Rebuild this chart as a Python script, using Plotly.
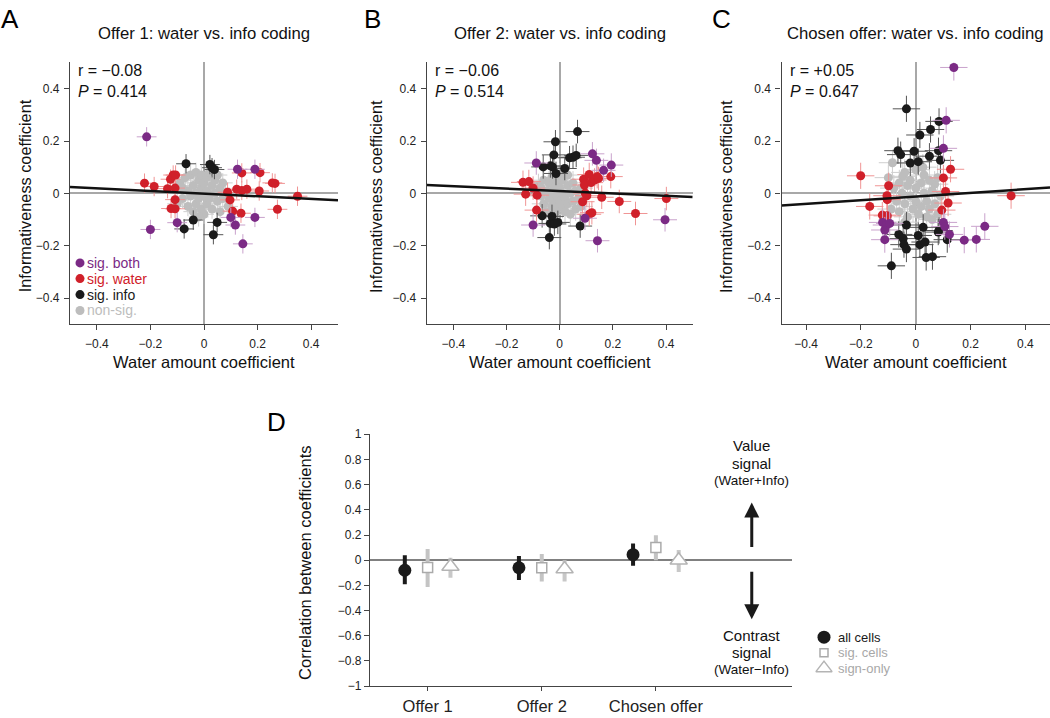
import plotly.graph_objects as go

W, H = 1050, 718
FONT = "Liberation Sans, Arial, Helvetica, sans-serif"

# ---------------- Panel A: Offer 1 ----------------
A_BOTH_X = [-0.214, -0.200, 0.125, 0.190, -0.100, 0.100, 0.117, 0.190, 0.145]
A_BOTH_Y = [0.216, -0.138, 0.092, 0.092, -0.112, -0.092, -0.121, -0.092, -0.193]
A_WATER_X = [-0.222, -0.186, -0.136, -0.125, -0.115, -0.106, -0.108, -0.108, -0.123, -0.108,
             0.088, 0.097, 0.107, 0.138, 0.122, 0.141, 0.160, 0.141, 0.209, 0.206, 0.255,
             0.265, 0.274, 0.349]
A_WATER_Y = [0.039, 0.026, 0.018, 0.054, 0.070, 0.070, 0.020, -0.024, -0.058, -0.059,
             0.004, -0.025, -0.068, -0.076, 0.016, 0.011, 0.016, 0.078, 0.079, 0.009, 0.040,
             0.038, -0.061, -0.011]
A_INFO_X = [-0.067, 0.022, 0.030, 0.039, -0.040, -0.074, 0.049, 0.035]
A_INFO_Y = [0.113, 0.110, 0.098, 0.091, -0.102, -0.136, -0.111, -0.158]
A_NS_X = [-0.09, -0.08, -0.07, -0.06, -0.06, -0.05, -0.05, -0.04, -0.04, -0.03, -0.03, -0.03,
          -0.02, -0.02, -0.01, -0.01, -0.01, 0.00, 0.00, 0.00, 0.01, 0.01, 0.01, 0.02, 0.02,
          0.03, 0.03, 0.04, 0.04, 0.05, 0.05, 0.06, 0.06, 0.07, 0.07, 0.08, -0.08, -0.10,
          0.09, -0.02]
A_NS_Y = [0.04, -0.02, 0.06, 0.01, -0.05, 0.07, -0.01, 0.03, -0.07, 0.08, 0.00, -0.04,
          0.05, -0.02, 0.07, 0.02, -0.06, 0.04, -0.01, -0.08, 0.06, 0.01, -0.04, 0.08, -0.02,
          0.03, -0.06, 0.05, 0.00, -0.03, 0.07, 0.02, -0.07, 0.04, -0.02, 0.00, 0.02, -0.04,
          -0.05, -0.09]

# ---------------- Panel B: Offer 2 ----------------
B_BOTH_X = [-0.088, 0.123, 0.138, 0.165, 0.194, -0.100, 0.095, 0.142, 0.396]
B_BOTH_Y = [0.116, 0.151, 0.126, 0.088, 0.108, -0.121, -0.095, -0.181, -0.101]
B_WATER_X = [-0.138, -0.116, -0.100, -0.128, -0.085, -0.087, 0.090, 0.111, 0.093, 0.096,
             0.102, 0.118, 0.131, 0.141, 0.146, 0.192, 0.086, 0.121, 0.111, 0.158, 0.224,
             0.285, 0.401]
B_WATER_Y = [0.042, 0.045, 0.020, -0.003, -0.007, -0.064, 0.054, 0.072, 0.032, 0.001,
             -0.009, 0.041, 0.051, 0.064, 0.057, 0.064, -0.032, -0.074, -0.080, -0.015, -0.031,
             -0.077, -0.020]
B_INFO_X = [0.067, -0.016, -0.022, -0.062, -0.035, -0.027, -0.014, 0.019, 0.037, 0.050,
            0.062, -0.066, -0.029, -0.035, -0.020, -0.007, -0.039, 0.077]
B_INFO_Y = [0.236, 0.197, 0.147, 0.101, 0.105, 0.101, 0.076, 0.095, 0.136, 0.138,
            0.145, -0.086, -0.088, -0.115, -0.117, -0.111, -0.169, -0.125]
B_NS_X = [-0.08, -0.07, -0.06, -0.06, -0.05, -0.05, -0.04, -0.04, -0.03, -0.03, -0.03, -0.02,
          -0.02, -0.02, -0.01, -0.01, -0.01, 0.00, 0.00, 0.01, 0.01, 0.01, 0.02, 0.02, 0.03,
          0.03, 0.04, 0.04, 0.05, 0.05, 0.06, 0.06, 0.07, 0.08, 0.08, -0.07, 0.00, 0.03]
B_NS_Y = [0.03, -0.01, 0.05, -0.04, 0.01, -0.07, 0.04, -0.02, 0.06, 0.00, -0.05, 0.02,
          -0.03, -0.08, 0.04, -0.01, -0.06, 0.02, -0.03, 0.05, 0.00, -0.05, -0.02, -0.07, 0.03,
          -0.04, 0.00, -0.08, 0.04, -0.03, -0.06, 0.01, -0.02, 0.02, -0.05, 0.02, 0.07, 0.07]

# ---------------- Panel C: Chosen offer ----------------
C_BOTH_X = [0.139, 0.111, 0.101, -0.121, -0.107, -0.113, -0.095, -0.113, 0.101, 0.106,
            0.123, 0.177, 0.221, 0.252]
C_BOTH_Y = [0.481, 0.279, 0.172, -0.111, -0.121, -0.140, -0.115, -0.177, -0.111, -0.127,
            -0.157, -0.179, -0.176, -0.126]
C_WATER_X = [-0.201, -0.168, -0.099, -0.105, -0.104, -0.122, -0.104, 0.127, 0.101, 0.109,
             0.118, 0.095, 0.348]
C_WATER_Y = [0.067, -0.050, 0.029, -0.009, -0.024, -0.083, -0.086, 0.092, 0.059, 0.007,
             -0.037, -0.064, -0.009]
C_INFO_X = [-0.034, 0.085, 0.054, 0.015, -0.065, -0.055, -0.006, -0.020, 0.009, 0.050,
            0.083, 0.090, -0.034, -0.062, -0.046, -0.043, -0.034, 0.027, 0.009, 0.015,
            0.034, 0.038, 0.061, 0.082, 0.085, 0.115, -0.089]
C_INFO_Y = [0.323, 0.275, 0.244, 0.223, 0.163, 0.148, 0.161, 0.116, 0.121, 0.142,
            0.163, 0.126, -0.121, -0.157, -0.173, -0.196, -0.213, -0.130, -0.161, -0.196,
            -0.186, -0.245, -0.242, -0.148, -0.142, -0.177, -0.277]
C_NS_X = [-0.085, -0.100, -0.047, 0.026, 0.069, -0.08, -0.07, -0.06, -0.06, -0.05, -0.04,
          -0.04, -0.03, -0.03, -0.02, -0.02, -0.01, 0.00, 0.00, 0.00, 0.01, 0.02, 0.02, 0.03,
          0.03, 0.04, 0.04, 0.05, 0.05, 0.06, 0.06, 0.07, 0.08, 0.08, 0.09, -0.09, 0.01, -0.04]
C_NS_Y = [0.117, 0.060, 0.065, 0.100, 0.035, 0.02, -0.03, 0.04, -0.07, 0.00, 0.08,
          -0.04, 0.03, -0.09, -0.01, 0.05, -0.06, 0.02, 0.09, -0.03, -0.08, 0.04, -0.05, 0.00,
          0.07, -0.03, -0.09, 0.05, -0.06, 0.01, -0.10, -0.04, 0.06, -0.08, -0.01, -0.06, 0.12,
          -0.11]

# error bar half-widths (both coefficients), one per panel
PANEL_ERR = [0.037, 0.045, 0.05]
# regression lines
FIT_INTERCEPT = [-0.001, 0.009, -0.012]
FIT_SLOPE = [-0.05, -0.046, 0.07]
STATS_R = ["r = \u22120.08", "r = \u22120.06", "r = +0.05"]
STATS_P = ["0.414", "0.514", "0.647"]
TITLES = ["Offer 1: water vs. info coding", "Offer 2: water vs. info coding",
          "Chosen offer: water vs. info coding"]
SCAT_LEGEND = ["sig. both", "sig. water", "sig. info", "non-sig."]

# ---------------- Panel D ----------------
D_CATS = ["Offer 1", "Offer 2", "Chosen offer"]
D_POS = [1, 2, 3]
D_ALL = [-0.08, -0.06, 0.044]
D_ALL_LO = [-0.19, -0.158, -0.044]
D_ALL_HI = [0.04, 0.034, 0.133]
D_SIG = [-0.057, -0.06, 0.10]
D_SIG_LO = [-0.213, -0.17, 0.0]
D_SIG_HI = [0.089, 0.05, 0.197]
D_SGN = [-0.05, -0.07, 0.0]
D_SGN_LO = [-0.14, -0.17, -0.094]
D_SGN_HI = [0.02, 0.0, 0.08]
D_LEGEND = ["all cells", "sig. cells", "sign-only"]

SCAT_TICKS = [-0.4, -0.2, 0, 0.2, 0.4]
SCAT_TICKTEXT = ["\u22120.4", "\u22120.2", "0", "0.2", "0.4"]
D_TICKS = [-1, -0.8, -0.6, -0.4, -0.2, 0, 0.2, 0.4, 0.6, 0.8, 1]
D_TICKTEXT = ["\u22121", "\u22120.8", "\u22120.6", "\u22120.4", "\u22120.2", "0",
              "0.2", "0.4", "0.6", "0.8", "1"]

PURPLE, RED, BLACK, GRAY = "#7b2a85", "#d0202a", "#1a1a1a", "#bdbdbd"
PURPLE_E, RED_E, BLACK_E, GRAY_E = "#c9a2cc", "#f09494", "#555555", "#cfcfcf"


def px_x(v):
    return v / W


def px_y(v):
    return 1 - v / H


fig = go.Figure()

panels = [
    dict(xa="x", ya="y", ns=(A_NS_X, A_NS_Y), info=(A_INFO_X, A_INFO_Y),
         water=(A_WATER_X, A_WATER_Y), both=(A_BOTH_X, A_BOTH_Y), xr=[-0.5, 0.5]),
    dict(xa="x2", ya="y2", ns=(B_NS_X, B_NS_Y), info=(B_INFO_X, B_INFO_Y),
         water=(B_WATER_X, B_WATER_Y), both=(B_BOTH_X, B_BOTH_Y), xr=[-0.5, 0.5]),
    dict(xa="x3", ya="y3", ns=(C_NS_X, C_NS_Y), info=(C_INFO_X, C_INFO_Y),
         water=(C_WATER_X, C_WATER_Y), both=(C_BOTH_X, C_BOTH_Y), xr=[-0.49, 0.49]),
]

for i, p in enumerate(panels):
    err = PANEL_ERR[i]
    for key, col, ecol in [("ns", GRAY, GRAY_E), ("info", BLACK, BLACK_E),
                           ("water", RED, RED_E), ("both", PURPLE, PURPLE_E)]:
        xs, ys = p[key]
        fig.add_trace(go.Scatter(
            x=xs, y=ys, xaxis=p["xa"], yaxis=p["ya"], mode="markers",
            marker=dict(size=9, color=col),
            error_x=dict(type="constant", value=err, color=ecol, thickness=1, width=0),
            error_y=dict(type="constant", value=err, color=ecol, thickness=1, width=0),
            showlegend=False, hoverinfo="skip"))
    lx = p["xr"]
    ly = [FIT_INTERCEPT[i] + FIT_SLOPE[i] * v for v in lx]
    fig.add_trace(go.Scatter(x=lx, y=ly, xaxis=p["xa"], yaxis=p["ya"], mode="lines",
                             line=dict(color="#111111", width=2.5), showlegend=False,
                             hoverinfo="skip"))

# Panel D traces
def errs(v, lo, hi):
    return [h - c for c, h in zip(v, hi)], [c - l for c, l in zip(v, lo)]

D_STYLE = [
    dict(symbol="circle", size=13, color=BLACK, line=dict(width=0)),
    dict(symbol="square", size=10, color="white", line=dict(color="#aaaaaa", width=1.5)),
    dict(symbol="triangle-up", size=15, color="white", line=dict(color="#b4b4b4", width=1.5)),
]
D_ECOL = [BLACK, "#c4c4c4", "#c8c8c8"]
D_OFFSET = [-0.2, 0.0, 0.2]
for k, (v, lo, hi) in enumerate([(D_ALL, D_ALL_LO, D_ALL_HI), (D_SIG, D_SIG_LO, D_SIG_HI),
                                 (D_SGN, D_SGN_LO, D_SGN_HI)]):
    up, dn = errs(v, lo, hi)
    fig.add_trace(go.Scatter(
        x=[c + D_OFFSET[k] for c in D_POS], y=v, xaxis="x4", yaxis="y4", mode="markers",
        marker=D_STYLE[k],
        error_y=dict(type="data", array=up, arrayminus=dn, color=D_ECOL[k], thickness=4, width=0),
        showlegend=False, name=D_LEGEND[k]))

# Legend swatches, placed on an invisible pixel-space overlay axis
LEG_A_Y = [261, 277, 293.3, 309.5]
fig.add_trace(go.Scatter(
    x=[80] * 4, y=LEG_A_Y, xaxis="x5", yaxis="y5", mode="markers",
    marker=dict(size=9, color=[PURPLE, RED, BLACK, GRAY]), showlegend=False,
    hoverinfo="skip", cliponaxis=False))
LEG_D_Y = [642.7, 658.7, 674.3]
for k in range(3):
    st = dict(D_STYLE[k])
    if k == 1:
        st = dict(st, size=8)
    if k == 2:
        st = dict(st, size=14)
    fig.add_trace(go.Scatter(
        x=[824], y=[LEG_D_Y[k]], xaxis="x5", yaxis="y5", mode="markers",
        marker=st, showlegend=False, hoverinfo="skip", cliponaxis=False))

axis_common = dict(showline=True, linecolor="#444444", linewidth=1.2, ticks="outside",
                   ticklen=5, tickcolor="#444444", showgrid=False, mirror=False,
                   tickfont=dict(family=FONT, size=12, color="#222222"))

scat_y_dom = [px_y(323.5), px_y(56.6)]
x_doms = [[px_x(70), px_x(338)], [px_x(426.7), px_x(692.7)], [px_x(781.5), 1.0]]
layout_axes = {}
for i, p in enumerate(panels):
    sfx = "" if i == 0 else str(i + 1)
    layout_axes["xaxis" + sfx] = dict(
        axis_common, domain=x_doms[i], range=p["xr"], anchor="y" + sfx,
        tickvals=SCAT_TICKS, ticktext=SCAT_TICKTEXT, zeroline=True,
        zerolinecolor="#a8a8a8", zerolinewidth=2, ticklabelstandoff=3)
    layout_axes["yaxis" + sfx] = dict(
        axis_common, domain=scat_y_dom, range=[-0.5, 0.5], anchor="x" + sfx,
        tickvals=SCAT_TICKS, ticktext=SCAT_TICKTEXT, zeroline=True,
        zerolinecolor="#a8a8a8", zerolinewidth=2, ticklabelstandoff=2)

layout_axes["xaxis4"] = dict(
    axis_common, domain=[px_x(370), px_x(791.7)], range=[0.495, 4.19], anchor="y4",
    tickvals=D_POS, ticktext=D_CATS, zeroline=False, ticklen=4, ticklabelstandoff=1,
    tickfont=dict(family=FONT, size=16.5, color="#222222"))
layout_axes["yaxis4"] = dict(
    axis_common, domain=[px_y(692.7), px_y(435.7)], range=[-1, 1], anchor="x4",
    tickvals=D_TICKS, ticktext=D_TICKTEXT, zeroline=True, zerolinecolor="#808080",
    zerolinewidth=2, tickfont=dict(family=FONT, size=12, color="#222222"))
layout_axes["xaxis5"] = dict(domain=[0, 1], range=[0, W], visible=False, anchor="y5",
                             fixedrange=True)
layout_axes["yaxis5"] = dict(domain=[0, 1], range=[H, 0], visible=False, anchor="x5",
                             fixedrange=True)

ann = []
def text(x, y, s, size, color="#111111", xanchor="center", yanchor="middle",
         xref="paper", yref="paper", angle=0, align="center"):
    ann.append(dict(x=x, y=y, text=s, xref=xref, yref=yref, showarrow=False,
                    xanchor=xanchor, yanchor=yanchor, textangle=angle, align=align,
                    font=dict(family=FONT, size=size, color=color)))

# panel letters
for letter, lx, ly in [("A", -1, 12.5), ("B", 362, 12.5), ("C", 710, 12.5), ("D", 265, 423)]:
    text(px_x(lx), px_y(ly), letter, 26, "#000000", xanchor="left")

# titles, axis titles, stats
centers = [204, 559.7, 915.7]
ytitle_x = [25, 376.7, 726.7]
stat_x = [76, 433, 788]
for i in range(3):
    text(px_x(centers[i]), px_y(27), TITLES[i], 16.7)
    text(px_x(centers[i]), px_y(362.5), "Water amount coefficient", 16.5)
    text(px_x(ytitle_x[i]), px_y(193), "Informativeness coefficient", 16.3, angle=-90)
    text(px_x(stat_x[i]), px_y(54), STATS_R[i] + "<br><i>P</i> = " + STATS_P[i], 16,
         xanchor="left", yanchor="top", align="left")

# Panel A legend labels
for s, col, yy in zip(SCAT_LEGEND, [PURPLE, RED, BLACK, GRAY], LEG_A_Y):
    text(px_x(84.5), px_y(yy), s, 14, col, xanchor="left")

# Panel D text
text(px_x(305), px_y(567), "Correlation between coefficients", 16.5, angle=-90)
for s, yy, sz in [("Value", 0.91, 15), ("signal", 0.764, 15), ("(Water+Info)", 0.632, 13.5),
                  ("Contrast", -0.595, 15), ("signal", -0.736, 15),
                  ("(Water\u2212Info)", -0.866, 13.5)]:
    text(3.84, yy, s, sz, xref="x4", yref="y4")
for tip, tail in [(0.457, 0.093), (-0.469, -0.08)]:
    ann.append(dict(x=3.84, y=tip, ax=3.84, ay=tail, xref="x4", yref="y4", axref="x4",
                    ayref="y4", showarrow=True, arrowhead=2, arrowsize=1, arrowwidth=3,
                    arrowcolor="#1a1a1a", text=""))

# Panel D legend labels
for s, col, yy in zip(D_LEGEND, [BLACK, "#a8a8a8", "#a8a8a8"], LEG_D_Y):
    text(px_x(835.5), px_y(yy), s, 13, col, xanchor="left")

fig.update_layout(
    width=W, height=H, margin=dict(l=0, r=0, t=0, b=0),
    paper_bgcolor="white", plot_bgcolor="rgba(0,0,0,0)",
    font=dict(family=FONT, color="#111111"),
    showlegend=False, annotations=ann, **layout_axes)

fig.write_html(
    "out.html",
    config={"displayModeBar": False},
    post_script="var b=document.body,h=document.documentElement;"
                "b.style.margin='0';b.style.padding='0';b.style.height='718px';"
                "b.style.overflow='hidden';h.style.height='718px';h.style.overflow='hidden';")
